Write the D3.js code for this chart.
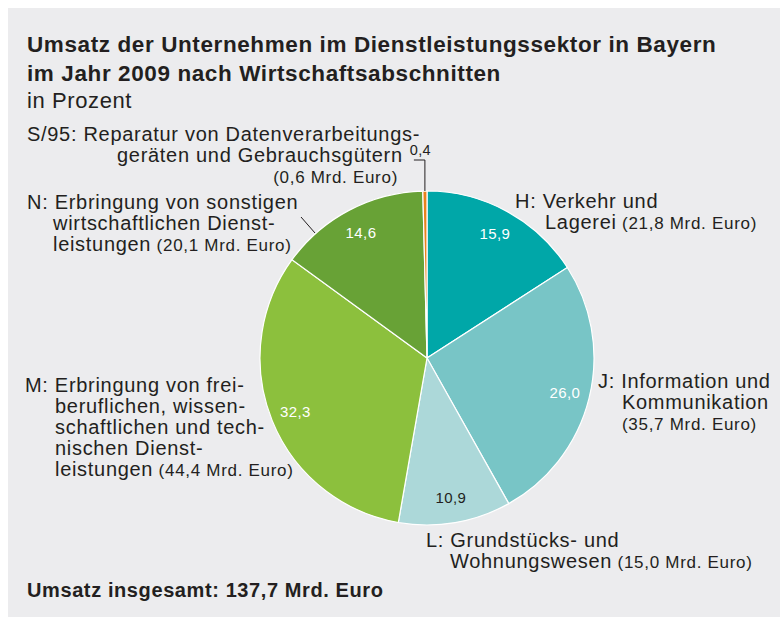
<!DOCTYPE html>
<html>
<head>
<meta charset="utf-8">
<script src="https://cdn.jsdelivr.net/npm/d3@7"></script>
<style>
  body { margin: 0; background: #fff; }
  svg text { font-family: "Liberation Sans", Arial, sans-serif; fill: #231f20; letter-spacing: 0.6px; }
</style>
</head>
<body>
<div id="chart"></div>
<script>
// Data
var codes = ["H", "J", "L", "M", "N", "S/95"];
var shares = [15.9, 26.0, 10.9, 32.3, 14.6, 0.4];
var shareLabels = ["15,9", "26,0", "10,9", "32,3", "14,6", "0,4"];
var euroLabels = ["21,8", "35,7", "15,0", "44,4", "20,1", "0,6"];
var colors = ["#00a7a8", "#78c5c6", "#acd8d9", "#8cc03d", "#68a236", "#e8821e"];
var totalLabel = "Umsatz insgesamt: 137,7 Mrd. Euro";

var width = 780, height = 617;
var cx = 427, cy = 358, radius = 167;

var svg = d3.select("#chart")
  .append("svg")
  .attr("width", width)
  .attr("height", height);

// gray panel
svg.append("rect")
  .attr("x", 8).attr("y", 8)
  .attr("width", width - 8).attr("height", height - 8)
  .attr("fill", "#ececee");

// Title
svg.append("text")
  .attr("x", 27).attr("y", 52)
  .style("font-size", "22.5px").style("font-weight", "bold")
  .text("Umsatz der Unternehmen im Dienstleistungssektor in Bayern");
svg.append("text")
  .attr("x", 27).attr("y", 81)
  .style("font-size", "22.5px").style("font-weight", "bold")
  .text("im Jahr 2009 nach Wirtschaftsabschnitten");
svg.append("text")
  .attr("x", 27).attr("y", 108)
  .style("font-size", "22px")
  .text("in Prozent");

// Pie
var data = codes.map(function(c, i) {
  return { code: c, value: shares[i], label: shareLabels[i], euro: euroLabels[i], color: colors[i] };
});

var pie = d3.pie().sort(null).value(function(d) { return d.value; });
var arc = d3.arc().innerRadius(0).outerRadius(radius);
var labelArc = d3.arc().innerRadius(142).outerRadius(142);

var g = svg.append("g").attr("transform", "translate(" + cx + "," + cy + ")");

g.selectAll(".slice")
  .data(pie(data))
  .enter()
  .append("path")
  .attr("class", "slice")
  .attr("d", arc)
  .attr("fill", function(d) { return d.data.color; })
  .attr("stroke", "#fff")
  .attr("stroke-width", 1.2);

g.selectAll(".val")
  .data(pie(data).filter(function(d) { return d.data.code !== "S/95"; }))
  .enter()
  .append("text")
  .attr("class", "val")
  .attr("transform", function(d) { return "translate(" + labelArc.centroid(d) + ")"; })
  .attr("dy", "0.36em")
  .attr("text-anchor", "middle")
  .style("font-size", "15px")
  .style("letter-spacing", "0.4px")
  .style("fill", function(d) { return d.data.code === "L" ? "#231f20" : "#fff"; })
  .text(function(d) { return d.data.label; });

// small slice value label with leader line
var sArc = pie(data)[5];
var sAngle = (sArc.startAngle + sArc.endAngle) / 2;
var sx = cx + Math.sin(sAngle) * radius;
var sy = cy - Math.cos(sAngle) * radius;
svg.append("path")
  .attr("d", "M" + (sx - 11) + "," + 160 + "H" + sx + "V" + sy)
  .attr("fill", "none")
  .attr("stroke", "#231f20")
  .attr("stroke-width", 1);
svg.append("text")
  .attr("x", sx + 6).attr("y", 155)
  .attr("text-anchor", "end")
  .style("font-size", "14.5px")
  .style("letter-spacing", "0.3px")
  .text(shareLabels[5]);

// Category labels
var layout = {
  "H": [[515, 208, "H: Verkehr und"], [545, 229, "Lagerei"]],
  "J": [[598, 388, "J: Information und"], [622, 409, "Kommunikation"], [622, 430, ""]],
  "L": [[426, 547, "L: Grundstücks- und"], [450, 568, "Wohnungswesen"]],
  "M": [[25, 392, "M: Erbringung von frei-"], [55, 413, "beruflichen, wissen-"], [55, 434, "schaftlichen und tech-"], [55, 455, "nischen Dienst-"], [55, 476, "leistungen"]],
  "N": [[27, 209, "N: Erbringung von sonstigen"], [53, 230, "wirtschaftlichen Dienst-"], [53, 251, "leistungen"]],
  "S/95": [[27, 141, "S/95: Reparatur von Datenverarbeitungs-"], [117, 162, "geräten und Gebrauchsgütern"], [398, 183, ""]]
};

data.forEach(function(d) {
  var lines = layout[d.code];
  lines.forEach(function(l, j) {
    var t = svg.append("text")
      .attr("x", l[0]).attr("y", l[1])
      .style("font-size", "20px")
      .style("letter-spacing", "0.7px");
    if (!l[2]) t.attr("text-anchor", d.code === "S/95" ? "end" : "start");
    if (l[2]) t.append("tspan").text(l[2]);
    if (j === lines.length - 1) {
      t.append("tspan")
        .style("font-size", "17px")
        .text((l[2] ? " " : "") + "(" + d.euro + " Mrd. Euro)");
    }
  });
});

// leader line for N
svg.append("line")
  .attr("x1", 301).attr("y1", 217)
  .attr("x2", 315).attr("y2", 233)
  .attr("stroke", "#231f20")
  .attr("stroke-width", 1);

// Footer
svg.append("text")
  .attr("x", 27).attr("y", 597)
  .style("font-size", "20px").style("font-weight", "bold")
  .text(totalLabel);
</script>
</body>
</html>
